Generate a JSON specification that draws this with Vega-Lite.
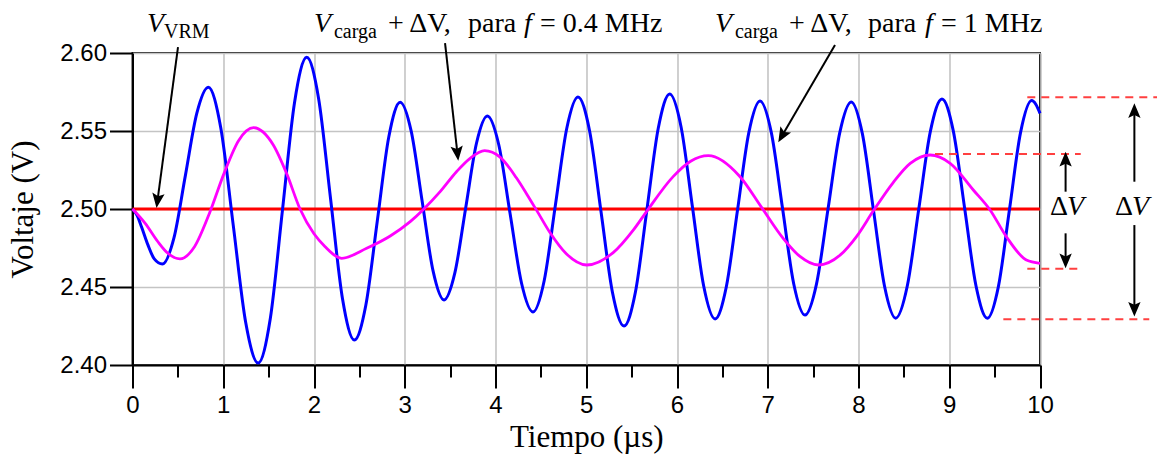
{
  "$schema": "https://vega.github.io/schema/vega-lite/v6.json",
  "width": 907.5,
  "height": 312,
  "autosize": {"type": "none"},
  "padding": {"left": 132.5, "top": 53, "right": 117, "bottom": 92},
  "background": "white",
  "config": {
    "view": {"stroke": "#222222", "strokeWidth": 2},
    "axis": {
      "labelFont": "Liberation Sans",
      "labelFontSize": 24,
      "labelColor": "#000000",
      "titleFont": "Liberation Serif",
      "titleFontSize": 31,
      "titleFontWeight": "normal",
      "titleColor": "#000000",
      "domainColor": "#000000",
      "domainWidth": 2,
      "tickColor": "#000000",
      "tickWidth": 2,
      "gridColor": "#c4c4c4",
      "gridWidth": 1.6,
      "labelOverlap": false,
      "labelFlush": false
    }
  },
  "datasets": {
    "blue": [
      {"t": 0, "v": 2.5}, {"t": 0.05, "v": 2.496}, {"t": 0.1, "v": 2.4885}, {"t": 0.17, "v": 2.477}, {"t": 0.24, "v": 2.468}, {"t": 0.33, "v": 2.4647},
      {"t": 0.456, "v": 2.4813}, {"t": 0.5825, "v": 2.5214}, {"t": 0.709, "v": 2.5614}, {"t": 0.835, "v": 2.578},
      {"t": 0.9725, "v": 2.5521}, {"t": 1.11, "v": 2.4897}, {"t": 1.2475, "v": 2.4272}, {"t": 1.385, "v": 2.4013},
      {"t": 1.519, "v": 2.43}, {"t": 1.6525, "v": 2.4993}, {"t": 1.786, "v": 2.5685}, {"t": 1.92, "v": 2.5972},
      {"t": 2.051, "v": 2.5707}, {"t": 2.1825, "v": 2.5066}, {"t": 2.314, "v": 2.4425}, {"t": 2.445, "v": 2.416},
      {"t": 2.571, "v": 2.4383}, {"t": 2.6975, "v": 2.4923}, {"t": 2.824, "v": 2.5462}, {"t": 2.95, "v": 2.5685},
      {"t": 3.071, "v": 2.5499}, {"t": 3.1915, "v": 2.5051}, {"t": 3.312, "v": 2.4603}, {"t": 3.433, "v": 2.4417},
      {"t": 3.552, "v": 2.459}, {"t": 3.6715, "v": 2.5007}, {"t": 3.791, "v": 2.5423}, {"t": 3.91, "v": 2.5596},
      {"t": 4.036, "v": 2.5412}, {"t": 4.1615, "v": 2.4968}, {"t": 4.287, "v": 2.4524}, {"t": 4.413, "v": 2.434},
      {"t": 4.537, "v": 2.4542}, {"t": 4.661, "v": 2.5029}, {"t": 4.785, "v": 2.5516}, {"t": 4.909, "v": 2.5718},
      {"t": 5.036, "v": 2.5503}, {"t": 5.1625, "v": 2.4984}, {"t": 5.289, "v": 2.4465}, {"t": 5.416, "v": 2.425},
      {"t": 5.542, "v": 2.4468}, {"t": 5.668, "v": 2.4994}, {"t": 5.794, "v": 2.5519}, {"t": 5.92, "v": 2.5737},
      {"t": 6.045, "v": 2.5526}, {"t": 6.1695, "v": 2.5016}, {"t": 6.294, "v": 2.4506}, {"t": 6.419, "v": 2.4295},
      {"t": 6.543, "v": 2.45}, {"t": 6.667, "v": 2.4994}, {"t": 6.791, "v": 2.5488}, {"t": 6.915, "v": 2.5692},
      {"t": 7.039, "v": 2.5491}, {"t": 7.1625, "v": 2.5006}, {"t": 7.286, "v": 2.4521}, {"t": 7.41, "v": 2.432},
      {"t": 7.5375, "v": 2.452}, {"t": 7.665, "v": 2.5003}, {"t": 7.7925, "v": 2.5486}, {"t": 7.92, "v": 2.5686},
      {"t": 8.0425, "v": 2.5483}, {"t": 8.165, "v": 2.4993}, {"t": 8.2875, "v": 2.4503}, {"t": 8.41, "v": 2.43},
      {"t": 8.5375, "v": 2.4506}, {"t": 8.665, "v": 2.5003}, {"t": 8.7925, "v": 2.5499}, {"t": 8.92, "v": 2.5705},
      {"t": 9.045, "v": 2.5499}, {"t": 9.17, "v": 2.5003}, {"t": 9.295, "v": 2.4506}, {"t": 9.42, "v": 2.43},
      {"t": 9.542, "v": 2.4504}, {"t": 9.664, "v": 2.4998}, {"t": 9.786, "v": 2.5491}, {"t": 9.908, "v": 2.5695},
      {"t": 9.955, "v": 2.567}, {"t": 10, "v": 2.5613}
    ],
    "magenta": [
      {"t": 0, "v": 2.5}, {"t": 0.14, "v": 2.4908}, {"t": 0.28, "v": 2.479}, {"t": 0.39, "v": 2.4716}, {"t": 0.523, "v": 2.468},
      {"t": 0.685, "v": 2.476}, {"t": 0.847, "v": 2.4971}, {"t": 1.01, "v": 2.523}, {"t": 1.172, "v": 2.5441}, {"t": 1.334, "v": 2.5521},
      {"t": 1.55, "v": 2.5412}, {"t": 1.7, "v": 2.5225}, {"t": 1.846, "v": 2.5}, {"t": 2.0, "v": 2.4841}, {"t": 2.12, "v": 2.476},
      {"t": 2.305, "v": 2.4684}, {"t": 2.58, "v": 2.4748}, {"t": 2.84, "v": 2.4827}, {"t": 3.06, "v": 2.4919}, {"t": 3.2, "v": 2.4994},
      {"t": 3.39, "v": 2.5111}, {"t": 3.57, "v": 2.5239}, {"t": 3.72, "v": 2.5325}, {"t": 3.88, "v": 2.5374}, {"t": 4.05, "v": 2.5333},
      {"t": 4.23, "v": 2.52}, {"t": 4.34, "v": 2.51}, {"t": 4.47, "v": 2.4975}, {"t": 4.6, "v": 2.4849}, {"t": 4.78, "v": 2.4713},
      {"t": 5.005, "v": 2.4641}, {"t": 5.3, "v": 2.4722}, {"t": 5.52, "v": 2.4866}, {"t": 5.66, "v": 2.498}, {"t": 5.96, "v": 2.5209},
      {"t": 6.15, "v": 2.5306}, {"t": 6.345, "v": 2.5342}, {"t": 6.69, "v": 2.521}, {"t": 6.93, "v": 2.5012}, {"t": 7.17, "v": 2.4812},
      {"t": 7.355, "v": 2.4696}, {"t": 7.557, "v": 2.4641}, {"t": 7.8, "v": 2.4706}, {"t": 7.98, "v": 2.4825}, {"t": 8.16, "v": 2.4985},
      {"t": 8.38, "v": 2.5168}, {"t": 8.57, "v": 2.5292}, {"t": 8.79, "v": 2.5346}, {"t": 9.01, "v": 2.5293}, {"t": 9.265, "v": 2.5122},
      {"t": 9.45, "v": 2.4994}, {"t": 9.63, "v": 2.4822}, {"t": 9.85, "v": 2.4673}, {"t": 10, "v": 2.4652}
    ],
    "red": [{"t": 0, "v": 2.5}, {"t": 10, "v": 2.5}],
    "dashes": [
      {"t": 9.86, "t2": 11.3, "v": 2.5716},
      {"t": 8.843, "t2": 10.449, "v": 2.5353},
      {"t": 9.86, "t2": 10.449, "v": 2.4617},
      {"t": 9.596, "t2": 11.204, "v": 2.4293}
    ],
    "shafts": [
      {"t": 0.5014, "v": 2.6038, "t2": 0.2783, "v2": 2.5067},
      {"t": 3.444, "v": 2.6064, "t2": 3.578, "v2": 2.537},
      {"t": 7.741, "v": 2.6051, "t2": 7.169, "v2": 2.5481},
      {"t": 10.282, "v": 2.5111, "t2": 10.282, "v2": 2.5306},
      {"t": 10.282, "v": 2.4844, "t2": 10.282, "v2": 2.4681},
      {"t": 11.04, "v": 2.5175, "t2": 11.04, "v2": 2.5617},
      {"t": 11.04, "v": 2.4897, "t2": 11.04, "v2": 2.4371}
    ],
    "headUp": [{"t": 10.282, "v": 2.5306}, {"t": 11.04, "v": 2.5617}],
    "headDown": [{"t": 10.282, "v": 2.4681}, {"t": 11.04, "v": 2.4371}],
    "head1": [{"t": 0.2783, "v": 2.5067}],
    "head2": [{"t": 3.578, "v": 2.537}],
    "head3": [{"t": 7.169, "v": 2.5481}],
    "italicBig": [
      {"t": 0.16, "v": 2.6133, "s": "V"},
      {"t": 2.0, "v": 2.6133, "s": "V"},
      {"t": 4.314, "v": 2.6133, "s": "f"},
      {"t": 6.419, "v": 2.6133, "s": "V"},
      {"t": 8.733, "v": 2.6133, "s": "f"},
      {"t": 10.298, "v": 2.4962, "s": "V"},
      {"t": 11.014, "v": 2.4962, "s": "V"}
    ],
    "uprightBig": [
      {"t": 2.815, "v": 2.6133, "s": "+ ΔV,"},
      {"t": 3.697, "v": 2.6133, "s": "para"},
      {"t": 4.49, "v": 2.6133, "s": "= 0.4 MHz"},
      {"t": 7.234, "v": 2.6133, "s": "+ ΔV,"},
      {"t": 8.105, "v": 2.6133, "s": "para"},
      {"t": 8.909, "v": 2.6133, "s": "= 1 MHz"},
      {"t": 10.11, "v": 2.4962, "s": "Δ"},
      {"t": 10.826, "v": 2.4962, "s": "Δ"}
    ],
    "subs": [
      {"t": 0.347, "v": 2.6096, "s": "VRM"},
      {"t": 2.22, "v": 2.6096, "s": "carga"},
      {"t": 6.639, "v": 2.6096, "s": "carga"}
    ]
  },
  "encoding": {
    "x": {
      "field": "t",
      "type": "quantitative",
      "scale": {"domain": [0, 10], "nice": false, "zero": false},
      "title": "Tiempo (µs)",
      "axis": {
        "values": [0, 0.5, 1, 1.5, 2, 2.5, 3, 3.5, 4, 4.5, 5, 5.5, 6, 6.5, 7, 7.5, 8, 8.5, 9, 9.5, 10],
        "labelExpr": "datum.value % 1 === 0 ? '' + datum.value : ''",
        "tickSize": {"condition": {"test": "datum.value % 1 === 0", "value": 23}, "value": 12},
        "gridColor": {"condition": {"test": "datum.value % 1 === 0", "value": "#c4c4c4"}, "value": "transparent"},
        "grid": true,
        "labelPadding": 5,
        "titlePadding": 5
      }
    },
    "y": {
      "field": "v",
      "type": "quantitative",
      "scale": {"domain": [2.4, 2.6], "nice": false, "zero": false},
      "title": "Voltaje (V)",
      "axis": {
        "values": [2.4, 2.45, 2.5, 2.55, 2.6],
        "format": ".2f",
        "tickSize": 23,
        "grid": true,
        "labelPadding": 3,
        "titlePadding": 20
      }
    }
  },
  "layer": [
    {"data": {"name": "red"}, "mark": {"type": "line", "color": "#ff0000", "strokeWidth": 3}},
    {"data": {"name": "blue"}, "mark": {"type": "line", "color": "#0000ff", "strokeWidth": 3, "interpolate": "monotone"}},
    {"data": {"name": "magenta"}, "mark": {"type": "line", "color": "#ff00ff", "strokeWidth": 2.8, "interpolate": "monotone"}},
    {"data": {"name": "dashes"}, "mark": {"type": "rule", "color": "#ff4040", "strokeWidth": 2, "strokeDash": [8, 6]}, "encoding": {"x2": {"field": "t2"}}},
    {"data": {"name": "shafts"}, "mark": {"type": "rule", "color": "#000000", "strokeWidth": 2}, "encoding": {"x2": {"field": "t2"}, "y2": {"field": "v2"}}},
    {"data": {"name": "headUp"}, "mark": {"type": "point", "shape": "M0,-1L0.65,0.55L0,0.25L-0.65,0.55Z", "size": 361, "filled": true, "color": "#000000", "opacity": 1, "angle": 0}},
    {"data": {"name": "headDown"}, "mark": {"type": "point", "shape": "M0,-1L0.65,0.55L0,0.25L-0.65,0.55Z", "size": 361, "filled": true, "color": "#000000", "opacity": 1, "angle": 180}},
    {"data": {"name": "head1"}, "mark": {"type": "point", "shape": "M0,-1L0.65,0.55L0,0.25L-0.65,0.55Z", "size": 361, "filled": true, "color": "#000000", "opacity": 1, "angle": 187.6}},
    {"data": {"name": "head2"}, "mark": {"type": "point", "shape": "M0,-1L0.65,0.55L0,0.25L-0.65,0.55Z", "size": 361, "filled": true, "color": "#000000", "opacity": 1, "angle": 173.6}},
    {"data": {"name": "head3"}, "mark": {"type": "point", "shape": "M0,-1L0.65,0.55L0,0.25L-0.65,0.55Z", "size": 361, "filled": true, "color": "#000000", "opacity": 1, "angle": 210.3}},
    {"data": {"name": "italicBig"}, "mark": {"type": "text", "font": "Liberation Serif", "fontSize": 28, "fontStyle": "italic", "align": "left", "baseline": "alphabetic", "color": "#000000"}, "encoding": {"text": {"field": "s"}}},
    {"data": {"name": "uprightBig"}, "mark": {"type": "text", "font": "Liberation Serif", "fontSize": 28, "align": "left", "baseline": "alphabetic", "color": "#000000"}, "encoding": {"text": {"field": "s"}}},
    {"data": {"name": "subs"}, "mark": {"type": "text", "font": "Liberation Serif", "fontSize": 20, "align": "left", "baseline": "alphabetic", "color": "#000000"}, "encoding": {"text": {"field": "s"}}}
  ]
}
